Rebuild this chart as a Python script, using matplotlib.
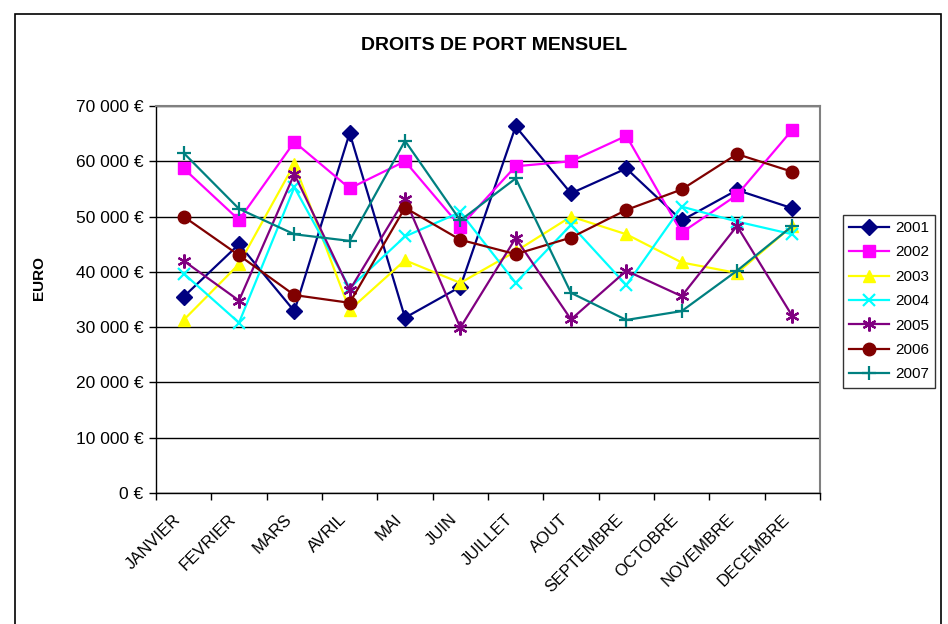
import numpy as np
import matplotlib
matplotlib.use("Agg")
import matplotlib.pyplot as plt
from matplotlib.patches import Rectangle
from matplotlib.ticker import FuncFormatter

plt.rcParams['font.family'] = ['Liberation Sans', 'DejaVu Sans']

mois = ['JANVIER', 'FEVRIER', 'MARS', 'AVRIL', 'MAI', 'JUIN', 'JUILLET',
        'AOUT', 'SEPTEMBRE', 'OCTOBRE', 'NOVEMBRE', 'DECEMBRE']

# montants mensuels (euros)
v2001 = [35500, 45000, 32900, 65100, 31700, 37300, 66300, 54200, 58700, 49300, 54800, 51500]
v2002 = [58700, 49400, 63500, 55100, 60000, 48200, 59100, 60000, 64600, 47100, 53900, 65700]
v2003 = [31300, 41400, 59500, 33100, 42100, 38000, 43700, 50000, 46800, 41700, 39800, 48300]
v2004 = [39700, 30800, 55300, 37100, 46400, 50800, 38000, 48500, 37600, 51800, 49100, 46800]
v2005 = [42000, 34800, 57700, 36700, 53200, 29900, 46100, 31400, 40200, 35600, 48300, 32000]
v2006 = [50000, 43000, 35800, 34400, 51600, 45800, 43200, 46200, 51200, 54900, 61300, 58100]
v2007 = [61500, 51400, 46800, 45600, 63700, 49300, 56900, 36200, 31300, 32900, 40200, 48300]

annees = ['2001', '2002', '2003', '2004', '2005', '2006', '2007']
series = [v2001, v2002, v2003, v2004, v2005, v2006, v2007]
couleurs = ['#000080', '#FF00FF', '#FFFF00', '#00FFFF', '#800080', '#800000', '#008080']
marqueurs = ['D', 's', '^', 'x', (6, 2, 0), 'o', '+']
tailles = [8, 8.5, 9, 9, 10, 9, 10]

fig = plt.figure(figsize=(9.48, 6.24), dpi=100)
ax = fig.add_axes([156/948, 1-493/624, (820-156)/948, (493-106)/624])

x = np.arange(len(mois)) + 0.5
for vals, an, c, m, s in zip(series, annees, couleurs, marqueurs, tailles):
    ax.plot(x, vals, color=c, marker=m, markersize=s, lw=1.6, label=an,
            markeredgewidth=1.6 if m in ('x', '+', (6, 2, 0)) else 1, zorder=3)

ax.set_xlim(0, 12)
ax.set_ylim(0, 70000)
ax.set_yticks(np.arange(0, 70001, 10000))
ax.yaxis.set_major_formatter(FuncFormatter(lambda v, p: '{:,.0f} €'.format(v).replace(',', ' ')))
ax.grid(axis='y', color='black', lw=1)
ax.set_axisbelow(True)

ax.set_xticks(np.arange(0, 13))
ax.set_xticklabels([])
ax.set_xticks(x, minor=True)
ax.set_xticklabels(mois, minor=True, rotation=45, ha='right', va='bottom',
                   rotation_mode='anchor')
ax.tick_params(axis='x', which='major', length=5, width=1, direction='out')
ax.tick_params(axis='x', which='minor', length=0, pad=21, labelsize=12)
ax.tick_params(axis='y', length=5, width=1, labelsize=12.5, pad=4)

for sp in ['top', 'right']:
    ax.spines[sp].set_color('#808080')
    ax.spines[sp].set_linewidth(1.5)
for sp in ['left', 'bottom']:
    ax.spines[sp].set_color('black')
    ax.spines[sp].set_linewidth(1)

fig.text(494/948, 1-45/624, 'DROITS DE PORT MENSUEL', ha='center', va='center',
         fontsize=14, fontweight='bold')
fig.text(39/948, 1-278/624, 'EURO', rotation=90, ha='center', va='center',
         fontsize=11, fontweight='bold')

leg = fig.legend(loc='upper left', bbox_to_anchor=(843/948, 1-215/624),
                 fontsize=11, frameon=True, fancybox=False, handlelength=2.6,
                 labelspacing=0.68, borderpad=0.4, handletextpad=0.4,
                 borderaxespad=0)
leg.get_frame().set_edgecolor('black')
leg.get_frame().set_linewidth(1)

fig.patches.append(Rectangle((15/948, -0.05), (941-15)/948, 1.05-14/624,
                             transform=fig.transFigure, fill=False,
                             edgecolor='black', lw=1.2))

fig.savefig('out.png', dpi=100)
